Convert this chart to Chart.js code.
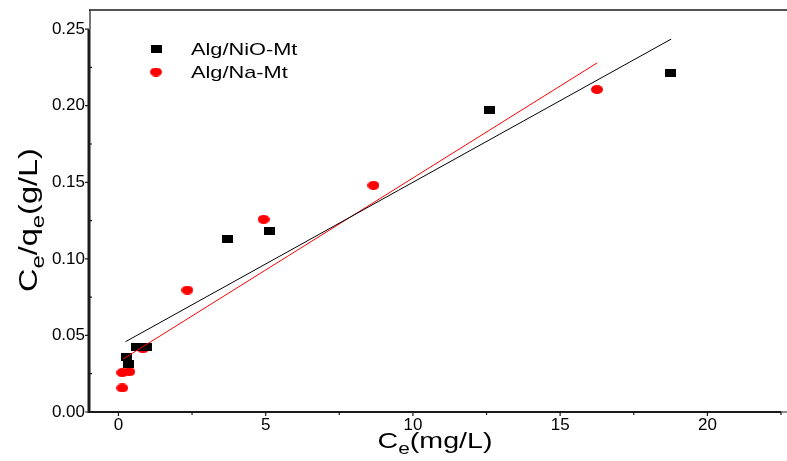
<!DOCTYPE html>
<html>
<head>
<meta charset="utf-8">
<script src="https://cdn.jsdelivr.net/npm/chart.js@4"></script>
<style>
  html, body { margin: 0; padding: 0; background: #fff; }
  #wrap { width: 787px; height: 461px; }
</style>
</head>
<body>
<div id="wrap"><canvas id="lang-graph"></canvas></div>
<script>
// values
const xTicks = [0, 5, 10, 15, 20];
const yTicks = [0, 0.05, 0.10, 0.15, 0.20, 0.25];

const nioX = [0.26, 0.35, 0.63, 0.95, 3.69, 5.14, 12.61, 18.76];
const nioY = [0.036, 0.0315, 0.0424, 0.0424, 0.1127, 0.1183, 0.1971, 0.2211];
const naX = [0.13, 0.13, 0.37, 0.83, 2.34, 4.93, 8.66, 16.25];
const naY = [0.0157, 0.0257, 0.0263, 0.0413, 0.0796, 0.1258, 0.148, 0.2106];

// fitted lines, ends
const nioFitX = [0.24, 18.77];
const nioFitY = [0.0459, 0.2435];
const naFitX = [0.16, 16.26];
const naFitY = [0.0346, 0.228];

const seriesNames = ['Alg/NiO-Mt', 'Alg/Na-Mt'];

const FONT = "'Liberation Sans', Arial, sans-serif";
const TXT_STRETCH = 1.28;

const pts = (xs, ys) => xs.map((x, i) => ({x: x, y: ys[i]}));

function makeRect(w, h, color) {
    const c = document.createElement('canvas');
    c.width = w; c.height = h;
    const g = c.getContext('2d');
    g.fillStyle = color;
    g.fillRect(0, 0, w, h);
    return c;
}
function makeEllipse(w, h, color) {
    const c = document.createElement('canvas');
    c.width = w; c.height = h;
    const g = c.getContext('2d');
    g.fillStyle = color;
    g.beginPath();
    g.ellipse(w / 2, h / 2, w / 2, h / 2, 0, 0, Math.PI * 2);
    g.fill();
    return c;
}
const squareMark = makeRect(11, 8, '#000');
const dotMark = makeEllipse(12, 9, '#ff0000');

// text with subscripts; parts = [text, size, dy]
function richWidth(ctx, parts, sx) {
    let w = 0;
    parts.forEach(p => {
        ctx.font = p[1] + 'px ' + FONT;
        w += ctx.measureText(p[0]).width * sx;
    });
    return w;
}
function drawRich(ctx, parts, sx) {
    let x = -richWidth(ctx, parts, sx) / 2;
    parts.forEach(p => {
        ctx.font = p[1] + 'px ' + FONT;
        const w = ctx.measureText(p[0]).width;
        ctx.save();
        ctx.translate(x, p[2]);
        ctx.scale(sx, 1);
        ctx.fillText(p[0], 0, 0);
        ctx.restore();
        x += w * sx;
    });
}

const framePlugin = {
    id: 'frame',
    afterDraw(chart) {
        const ctx = chart.ctx;
        const xs = chart.scales.x, ys = chart.scales.y;
        const a = chart.chartArea;
        const y0 = ys.getPixelForValue(0);
        const yTop = ys.getPixelForValue(yTicks[yTicks.length - 1]);
        ctx.save();
        ctx.strokeStyle = '#1a1a1a';
        // top line
        ctx.lineWidth = 1.5;
        ctx.beginPath();
        ctx.moveTo(a.left, a.top);
        ctx.lineTo(chart.width, a.top);
        ctx.stroke();
        // thin y axis above last tick
        ctx.lineWidth = 1.2;
        ctx.beginPath();
        ctx.moveTo(a.left + 1, yTop);
        ctx.lineTo(a.left + 1, a.top);
        ctx.stroke();
        // y axis
        ctx.lineWidth = 3;
        ctx.beginPath();
        ctx.moveTo(a.left, y0 + 1);
        ctx.lineTo(a.left, yTop);
        ctx.stroke();
        // x axis
        ctx.lineWidth = 2;
        ctx.beginPath();
        ctx.moveTo(a.left, y0);
        ctx.lineTo(a.right, y0);
        ctx.stroke();
        ctx.lineWidth = 1;
        ctx.beginPath();
        ctx.moveTo(a.right, y0);
        ctx.lineTo(chart.width, y0);
        ctx.stroke();
        // ticks
        ctx.lineWidth = 1.2;
        ctx.beginPath();
        yTicks.forEach((v, i) => {
            const p = ys.getPixelForValue(v);
            ctx.moveTo(a.left - 4, p);
            ctx.lineTo(a.left, p);
            if (i < yTicks.length - 1) {
                const m = ys.getPixelForValue(v + 0.025);
                ctx.moveTo(a.left, m);
                ctx.lineTo(a.left + 3, m);
            }
        });
        xTicks.forEach(v => {
            const p = xs.getPixelForValue(v);
            ctx.moveTo(p, y0);
            ctx.lineTo(p, y0 + 4);
            const m = xs.getPixelForValue(v + 2.5);
            ctx.moveTo(m, y0);
            ctx.lineTo(m, y0 + 3);
        });
        ctx.stroke();

        ctx.fillStyle = '#000';
        ctx.textBaseline = 'alphabetic';
        // x title
        ctx.save();
        ctx.translate((a.left + a.right) / 2, 448);
        drawRich(ctx, [['C', 22, 0], ['e', 16, 6], ['(mg/L)', 22, 0]], 1.3);
        ctx.restore();
        // y title
        ctx.save();
        ctx.translate(37, 220);
        ctx.rotate(-Math.PI / 2);
        drawRich(ctx, [['C', 26, 0], ['e', 19, 7], ['/q', 26, 0], ['e', 19, 7], ['(g/L)', 26, 0]], 1.25);
        ctx.restore();

        // legend
        ctx.textBaseline = 'middle';
        const rows = [[squareMark, 49], [dotMark, 72]];
        rows.forEach((r, i) => {
            ctx.drawImage(r[0], 156 - r[0].width / 2, r[1] - r[0].height / 2);
            ctx.save();
            ctx.translate(191, r[1] + 1);
            ctx.scale(TXT_STRETCH, 1);
            ctx.font = '17px ' + FONT;
            ctx.fillText(seriesNames[i], 0, 0);
            ctx.restore();
        });
        ctx.restore();
    }
};

const data = {
    datasets: [
        {
            label: seriesNames[0] + ' fit',
            type: 'line',
            data: pts(nioFitX, nioFitY),
            borderColor: '#000',
            borderWidth: 1,
            pointRadius: 0,
            order: 0
        },
        {
            label: seriesNames[1] + ' fit',
            type: 'line',
            data: pts(naFitX, naFitY),
            borderColor: '#ff0000',
            borderWidth: 1,
            pointRadius: 0,
            order: 0
        },
        {
            label: seriesNames[0],
            data: pts(nioX, nioY),
            pointStyle: squareMark,
            order: 1
        },
        {
            label: seriesNames[1],
            data: pts(naX, naY),
            pointStyle: dotMark,
            order: 2
        }
    ]
};

const config = {
    type: 'scatter',
    data,
    options: {
        responsive: true,
        maintainAspectRatio: false,
        animation: false,
        layout: {
            padding: {top: 10, right: 6, left: 0, bottom: 0}
        },
        scales: {
            x: {
                type: 'linear',
                min: -1,
                max: 22.5,
                afterBuildTicks: (s) => { s.ticks = xTicks.map(v => ({value: v})); },
                afterFit: (s) => {
                    s.height = 49;
                    s.paddingLeft = 0;
                    s.paddingRight = 0;
                },
                grid: {display: false, drawTicks: false},
                border: {display: false},
                ticks: {
                    font: {size: 17, family: FONT},
                    color: '#000',
                    padding: 3,
                    maxRotation: 0
                }
            },
            y: {
                type: 'linear',
                min: 0,
                max: 0.2625,
                afterBuildTicks: (s) => { s.ticks = yTicks.map(v => ({value: v})); },
                afterFit: (s) => {
                    s.width = 89;
                    s.paddingTop = 0;
                    s.paddingBottom = 0;
                },
                grid: {display: false, drawTicks: false},
                border: {display: false},
                ticks: {
                    font: {size: 17, family: FONT},
                    color: '#000',
                    padding: 4,
                    callback: (v) => v.toFixed(2)
                }
            }
        },
        plugins: {
            legend: {display: false},
            tooltip: {enabled: false}
        }
    },
    plugins: [framePlugin]
};

var myChart = new Chart(
    document.getElementById('lang-graph'),
    config
);
</script>
</body>
</html>
